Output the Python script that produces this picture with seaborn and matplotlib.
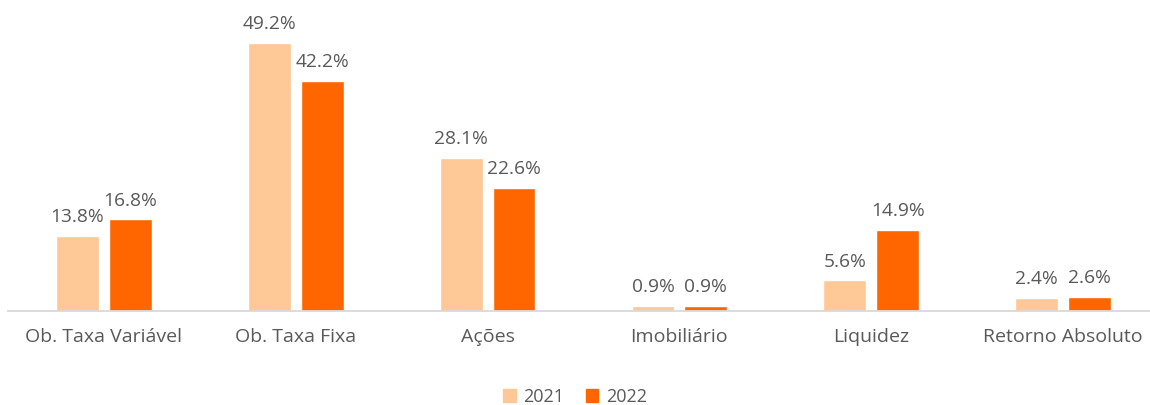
import pandas as pd
import matplotlib
matplotlib.use("Agg")
import matplotlib.pyplot as plt
import seaborn as sns

categories = ["Ob. Taxa Variável", "Ob. Taxa Fixa", "Ações", "Imobiliário", "Liquidez", "Retorno Absoluto"]
years = ["2021", "2022"]
values_2021 = [13.8, 49.2, 28.1, 0.9, 5.6, 2.4]
values_2022 = [16.8, 42.2, 22.6, 0.9, 14.9, 2.6]
colors = ["#FFC896", "#FF6600"]

df = pd.DataFrame({
    "categoria": categories * 2,
    "ano": [years[0]] * len(categories) + [years[1]] * len(categories),
    "valor": values_2021 + values_2022,
})

sns.set_theme(style="white")
plt.rcParams["font.family"] = ["Open Sans", "DejaVu Sans"]
text_color = "#595959"

fig = plt.figure(figsize=(11.5, 4.05), dpi=100)
ax = fig.add_axes([8 / 1150, 94 / 405, 1151 / 1150, 300 / 405])

sns.barplot(data=df, x="categoria", y="valor", hue="ano", order=categories,
            hue_order=years, palette=colors, width=0.552, gap=0.19,
            saturation=1, ax=ax, legend=False)

# rótulos de valor por cima das barras
for container in ax.containers:
    ax.bar_label(container, fmt="{:.1f}%", padding=7, fontsize=13.8, color=text_color)

ax.set_ylim(0, 55)
ax.set_xlim(-0.5, 5.5)
ax.set_xlabel("")
ax.set_ylabel("")
ax.set_yticks([])
ax.tick_params(axis="x", length=0, pad=12, labelsize=14, labelcolor=text_color)
for side in ["top", "right", "left"]:
    ax.spines[side].set_visible(False)
ax.spines["bottom"].set_color("#D9D9D9")
ax.spines["bottom"].set_linewidth(1.3)

handles = [plt.Rectangle((0, 0), 1, 1, color=c) for c in colors]
fig.legend(handles, years, loc="center", bbox_to_anchor=(0.5, 8 / 405), ncol=2,
           frameon=False, fontsize=13, labelcolor=text_color, handlelength=0.7,
           handleheight=0.7, handletextpad=0.4, columnspacing=1.2)

fig.savefig("out.png", dpi=100)
